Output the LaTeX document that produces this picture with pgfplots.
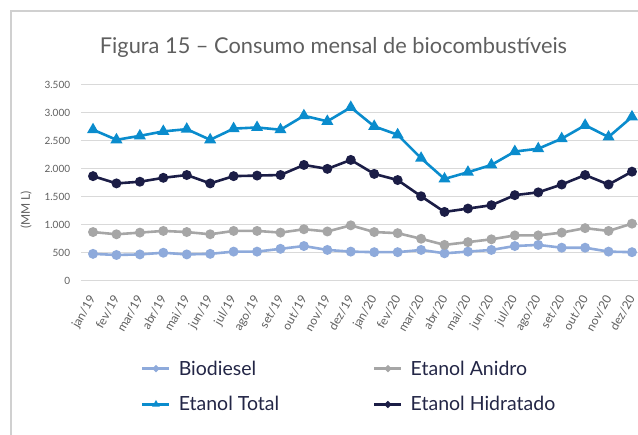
\documentclass[border=0pt]{standalone}
\usepackage{fontspec}
\setmainfont{Lato}
\usepackage{pgfplots}
\usepackage{pgfplotstable}
\pgfplotsset{compat=1.18}

\definecolor{totalblue}{RGB}{10,140,205}
\definecolor{hidrnavy}{RGB}{27,29,70}
\definecolor{anidrogray}{RGB}{166,166,166}
\definecolor{biolight}{RGB}{142,170,219}
\definecolor{gridgray}{RGB}{217,217,217}
\definecolor{tickgray}{RGB}{95,95,95}
\definecolor{titlegray}{RGB}{95,95,95}
\definecolor{legendtext}{RGB}{35,38,70}
\definecolor{framegray}{RGB}{208,208,208}

% x = mes (0 = jan/19)
\pgfplotstableread{
x bio anidro total hidr
0  480  870 2700 1870
1  460  830 2520 1740
2  470  860 2590 1770
3  500  890 2670 1840
4  470  870 2710 1890
5  480  830 2520 1740
6  520  890 2720 1870
7  520  890 2740 1880
8  570  860 2700 1890
9  620  920 2950 2070
10 550  880 2850 2000
11 520  990 3100 2160
12 510  870 2760 1910
13 510  850 2610 1800
14 550  750 2190 1510
15 490  640 1820 1230
16 520  690 1940 1290
17 550  740 2070 1350
18 620  810 2310 1530
19 640  810 2360 1580
20 590  860 2540 1720
21 590  940 2780 1890
22 520  890 2570 1720
23 510 1020 2930 1950
}\consumo

\begin{document}
\begin{tikzpicture}[x=1pt,y=1pt]
\useasboundingbox (0,0) rectangle (638,435);
\clip (0,0) rectangle (638,435);
\draw[framegray,line width=1.4pt] (11,-5) -- (11,424) -- (650,424);
\node[titlegray,font=\fontsize{21.8}{26}\selectfont] at (333.5,388) {Figura 15 – Consumo mensal de biocombustíveis};
\node[tickgray,rotate=90,font=\fontsize{12}{14}\selectfont] at (26,225) {(MM L)};

\begin{axis}[
  at={(81.3pt,154.3pt)}, anchor=south west,
  scale only axis,
  width=562.4pt, height=195.7pt,
  xmin=-0.5, xmax=23.5,
  ymin=0, ymax=3500,
  ytick={0,500,...,3500},
  xtick={0,...,23},
  xticklabels={jan/19,fev/19,mar/19,abr/19,mai/19,jun/19,jul/19,ago/19,set/19,out/19,nov/19,dez/19,
               jan/20,fev/20,mar/20,abr/20,mai/20,jun/20,jul/20,ago/20,set/20,out/20,nov/20,dez/20},
  scaled y ticks=false,
  /pgf/number format/assume math mode=true,
  /pgf/number format/1000 sep={.},
  axis line style={draw=none},
  major tick length=0pt,
  ymajorgrids,
  major grid style={gridgray,line width=1pt},
  tick label style={tickgray},
  yticklabel style={font=\fontsize{10}{12}\selectfont,inner sep=0pt,xshift=-11pt},
  xticklabel style={font=\fontsize{12}{14}\selectfont,inner sep=0pt,yshift=-16pt,rotate=60,anchor=east},
  legend columns=2,
  legend style={at={(axis description cs:0.1008,-0.541)},anchor=west,
    draw=none,fill=none,text=legendtext,
    font=\fontsize{19.5}{22}\selectfont,
    row sep=16pt,
    /tikz/every odd column/.append style={column sep=6pt},
    /tikz/every even column/.append style={column sep=92pt}},
  legend cell align=left,
  legend image code/.code={\draw[mark repeat=2,mark phase=2,#1,mark size=1.9pt]
    plot coordinates {(0pt,0pt) (13.5pt,0pt) (27pt,0pt)};},
]
\addplot[biolight,line width=2.6pt,mark=*,mark size=3.6pt] table[x=x,y=bio]{\consumo};
\addlegendentry{Biodiesel}
\addplot[anidrogray,line width=2.6pt,mark=*,mark size=3.6pt] table[x=x,y=anidro]{\consumo};
\addlegendentry{Etanol Anidro}
\addplot[totalblue,line width=2.6pt,mark=triangle*,mark size=4.4pt] table[x=x,y=total]{\consumo};
\addlegendentry{Etanol Total}
\addplot[hidrnavy,line width=2.6pt,mark=*,mark size=3.6pt] table[x=x,y=hidr]{\consumo};
\addlegendentry{Etanol Hidratado}
\end{axis}
\end{tikzpicture}
\end{document}
